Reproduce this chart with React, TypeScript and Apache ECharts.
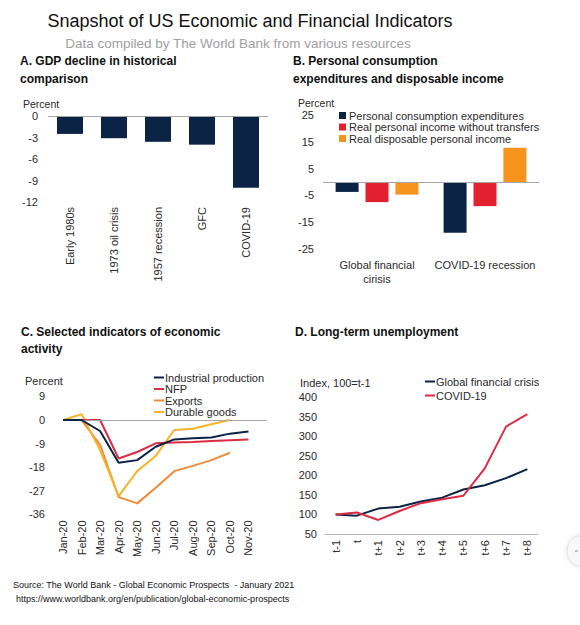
import React, { useEffect, useRef } from 'react';
import * as echarts from 'echarts';

const gdpCategories = ['Early 1980s', '1973 oil crisis', '1957 recession', 'GFC', 'COVID-19'];
const gdpDecline = [-2.5, -3.1, -3.6, -4.0, -10.0];
const gdpTicks = { min: -12, max: 0, interval: 3 };

const pceCategories = ['Global financial\ncirisis', 'COVID-19 recession'];
const pceNames = ['Personal consumption expenditures', 'Real personal income without transfers', 'Real disposable personal income'];
const pceValues = [-3.7, -18.9];
const incomeWithoutTransfers = [-7.5, -9.0];
const disposableIncome = [-4.7, 12.8];
const pceTicks = { min: -25, max: 25, interval: 10 };

const months = ['Jan-20', 'Feb-20', 'Mar-20', 'Apr-20', 'May-20', 'Jun-20', 'Jul-20', 'Aug-20', 'Sep-20', 'Oct-20', 'Nov-20'];
const activityNames = ['Industrial production', 'NFP', 'Exports', 'Durable goods'];
const industrialProduction = [0, 0, -4.2, -16.3, -15.3, -10.2, -7.4, -7.0, -6.7, -5.2, -4.4];
const nfp = [0, 0, 0, -14.7, -12.2, -8.9, -8.6, -8.4, -8.0, -7.7, -7.4];
const exportsData = [0, 0, -9.5, -29.4, -31.8, -25.8, -19.5, -17.5, -15.3, -12.5, null];
const durableGoods = [0, 2.2, -11.5, -29.0, -19.5, -13.7, -3.8, -3.3, -1.6, 0, null];
const activityTicks = { min: -36, max: 9, interval: 9 };

const periods = ['t-1', 't', 't+1', 't+2', 't+3', 't+4', 't+5', 't+6', 't+7', 't+8'];
const unemploymentNames = ['Global financial crisis', 'COVID-19'];
const gfcUnemployment = [100, 97, 115, 120, 133, 143, 164, 175, 193, 216];
const covidUnemployment = [100, 105, 86, 109, 129, 139, 148, 218, 325, 357];
const unemploymentTicks = { min: 50, max: 400, interval: 50 };

const FONT = '"Liberation Sans", Arial, Helvetica, sans-serif';
const NAVY = '#0b2345';
const RED = '#e3202f';
const ORANGE = '#f7941d';
const CRIMSON = '#dc2c44';
const EXPORT_ORANGE = '#ef8b3a';
const GOLD = '#f6b42c';
const LABEL = '#2a2a2a';
const ZERO = '#a6a6a6';

const zeroLine = {
  silent: true,
  symbol: 'none',
  label: { show: false },
  lineStyle: { color: ZERO, width: 1, type: 'solid' },
  data: [{ yAxis: 0 }],
};

export default function App() {
  const ref = useRef<HTMLDivElement>(null);

  useEffect(() => {
    document.body.style.margin = '0';
    if (!ref.current) return;
    const chart = echarts.init(ref.current, undefined, { renderer: 'svg' });

    const axisLabel = { color: LABEL, fontSize: 11, fontFamily: FONT };
    const catAxisBase = {
      type: 'category' as const,
      axisTick: { show: false },
      axisLine: { show: false, onZero: false },
    };
    const valAxisBase = {
      type: 'value' as const,
      axisLine: { show: false },
      axisTick: { show: false },
      splitLine: { show: false },
    };

    const text = (t: string, x: number, y: number, opts: any = {}) => ({
      type: 'text',
      x,
      y,
      silent: true,
      style: {
        text: t,
        fontFamily: FONT,
        fontSize: 11,
        fill: LABEL,
        align: 'left',
        verticalAlign: 'middle',
        ...opts,
      },
    });

    const option: any = {
      animation: false,
      backgroundColor: '#ffffff',
      textStyle: { fontFamily: FONT },
      grid: [
        { left: 48, top: 116, width: 220, height: 86 },
        { left: 323, top: 115, width: 216, height: 134 },
        { left: 63, top: 396.4, width: 204, height: 118 },
        { left: 325, top: 397.3, width: 213, height: 136.7 },
      ],
      xAxis: [
        {
          ...catAxisBase,
          gridIndex: 0,
          data: gdpCategories,
          axisLabel: { ...axisLabel, rotate: 90, margin: 5, interval: 0 },
        },
        {
          ...catAxisBase,
          gridIndex: 1,
          data: pceCategories,
          axisLabel: { ...axisLabel, margin: 9, interval: 0, lineHeight: 14 },
        },
        {
          ...catAxisBase,
          gridIndex: 2,
          data: months,
          boundaryGap: false,
          max: 10.57,
          axisLabel: { ...axisLabel, rotate: 90, margin: 6, interval: 0 },
        },
        {
          ...catAxisBase,
          gridIndex: 3,
          data: periods,
          axisLine: { show: true, onZero: false, lineStyle: { color: '#b8b8b8', width: 1 } },
          axisLabel: { ...axisLabel, rotate: 90, margin: 6, interval: 0 },
        },
      ],
      yAxis: [
        { ...valAxisBase, gridIndex: 0, ...gdpTicks, axisLabel: { ...axisLabel, margin: 10 } },
        { ...valAxisBase, gridIndex: 1, ...pceTicks, axisLabel: { ...axisLabel, margin: 9 } },
        { ...valAxisBase, gridIndex: 2, ...activityTicks, axisLabel: { ...axisLabel, margin: 18 } },
        { ...valAxisBase, gridIndex: 3, ...unemploymentTicks, axisLabel: { ...axisLabel, margin: 8 } },
      ],
      legend: [
        {
          data: pceNames,
          orient: 'vertical',
          left: 339,
          top: 110,
          itemWidth: 7,
          itemHeight: 7,
          itemGap: 0.5,
          icon: 'rect',
          padding: 0,
          textStyle: { color: LABEL, fontSize: 11, fontFamily: FONT, padding: [0, 0, 0, -2] },
          selectedMode: false,
        },
        {
          data: activityNames,
          orient: 'vertical',
          left: 154,
          top: 372,
          itemWidth: 10,
          itemHeight: 2,
          itemGap: 0.5,
          icon: 'rect',
          padding: 0,
          textStyle: { color: LABEL, fontSize: 11, fontFamily: FONT, padding: [0, 0, 0, -4] },
          selectedMode: false,
        },
        {
          data: unemploymentNames,
          orient: 'vertical',
          left: 425,
          top: 376,
          itemWidth: 10,
          itemHeight: 2,
          itemGap: 3,
          icon: 'rect',
          padding: 0,
          textStyle: { color: LABEL, fontSize: 11, fontFamily: FONT, padding: [0, 0, 0, -4] },
          selectedMode: false,
        },
      ],
      series: [
        {
          type: 'bar',
          name: 'GDP decline',
          xAxisIndex: 0,
          yAxisIndex: 0,
          data: gdpDecline,
          barWidth: 26,
          itemStyle: { color: NAVY },
          markLine: zeroLine,
        },
        {
          type: 'bar',
          name: pceNames[0],
          xAxisIndex: 1,
          yAxisIndex: 1,
          data: pceValues,
          barWidth: 23,
          barGap: '30%',
          itemStyle: { color: NAVY },
          markLine: zeroLine,
        },
        {
          type: 'bar',
          name: pceNames[1],
          xAxisIndex: 1,
          yAxisIndex: 1,
          data: incomeWithoutTransfers,
          barWidth: 23,
          barGap: '30%',
          itemStyle: { color: RED },
        },
        {
          type: 'bar',
          name: pceNames[2],
          xAxisIndex: 1,
          yAxisIndex: 1,
          data: disposableIncome,
          barWidth: 23,
          barGap: '30%',
          itemStyle: { color: ORANGE },
        },
        {
          type: 'line',
          name: activityNames[0],
          xAxisIndex: 2,
          yAxisIndex: 2,
          data: industrialProduction,
          showSymbol: false,
          z: 5,
          lineStyle: { color: NAVY, width: 2 },
          itemStyle: { color: NAVY },
          markLine: zeroLine,
        },
        {
          type: 'line',
          name: activityNames[1],
          xAxisIndex: 2,
          yAxisIndex: 2,
          data: nfp,
          showSymbol: false,
          z: 4,
          lineStyle: { color: CRIMSON, width: 2 },
          itemStyle: { color: CRIMSON },
        },
        {
          type: 'line',
          name: activityNames[2],
          xAxisIndex: 2,
          yAxisIndex: 2,
          data: exportsData,
          showSymbol: false,
          z: 3,
          lineStyle: { color: EXPORT_ORANGE, width: 2 },
          itemStyle: { color: EXPORT_ORANGE },
        },
        {
          type: 'line',
          name: activityNames[3],
          xAxisIndex: 2,
          yAxisIndex: 2,
          data: durableGoods,
          showSymbol: false,
          z: 3,
          lineStyle: { color: GOLD, width: 2 },
          itemStyle: { color: GOLD },
        },
        {
          type: 'line',
          name: unemploymentNames[0],
          xAxisIndex: 3,
          yAxisIndex: 3,
          data: gfcUnemployment,
          showSymbol: false,
          lineStyle: { color: NAVY, width: 2 },
          itemStyle: { color: NAVY },
        },
        {
          type: 'line',
          name: unemploymentNames[1],
          xAxisIndex: 3,
          yAxisIndex: 3,
          data: covidUnemployment,
          showSymbol: false,
          lineStyle: { color: CRIMSON, width: 2 },
          itemStyle: { color: CRIMSON },
        },
      ],
      graphic: [
        text('Snapshot of US Economic and Financial Indicators', 250, 21, { fontSize: 18, align: 'center', fill: '#111' }),
        text('Data compiled by The World Bank from various resources', 238, 43, { fontSize: 13.5, align: 'center', fill: '#a0a0a0' }),
        text('A. GDP decline in historical\ncomparison', 20, 52, { fontSize: 12, fontWeight: 'bold', fill: '#111', verticalAlign: 'top', lineHeight: 18 }),
        text('B. Personal consumption\nexpenditures and disposable income', 293, 52, { fontSize: 12, fontWeight: 'bold', fill: '#111', verticalAlign: 'top', lineHeight: 18 }),
        text('C. Selected indicators of economic\nactivity', 21, 323, { fontSize: 12, fontWeight: 'bold', fill: '#111', verticalAlign: 'top', lineHeight: 17 }),
        text('D. Long-term unemployment', 295, 323, { fontSize: 12, fontWeight: 'bold', fill: '#111', verticalAlign: 'top', lineHeight: 17 }),
        text('Percent', 23, 104, { fontSize: 10.5 }),
        text('Percent', 298, 103, { fontSize: 10.5 }),
        text('Percent', 25, 381),
        text('Index, 100=t-1', 300, 383),
        text('Source: The World Bank - Global Economic Prospects  - January 2021', 13, 585, { fontSize: 9, fill: '#111' }),
        text('https://www.worldbank.org/en/publication/global-economic-prospects', 16, 599, { fontSize: 9, fill: '#111' }),
        {
          type: 'circle',
          silent: true,
          shape: { cx: 583, cy: 551, r: 16 },
          style: { fill: '#f8f8f8', stroke: '#e2e2e2', lineWidth: 1, shadowBlur: 4, shadowColor: 'rgba(0,0,0,0.12)' },
        },
        {
          type: 'line',
          silent: true,
          shape: { x1: 575, y1: 551, x2: 578, y2: 551 },
          style: { stroke: '#888', lineWidth: 1 },
        },
      ],
    };

    chart.setOption(option);
    return () => chart.dispose();
  }, []);

  return (
    <div
      ref={ref}
      style={{ position: 'absolute', left: 0, top: 0, width: 580, height: 625, background: '#fff' }}
    />
  );
}
